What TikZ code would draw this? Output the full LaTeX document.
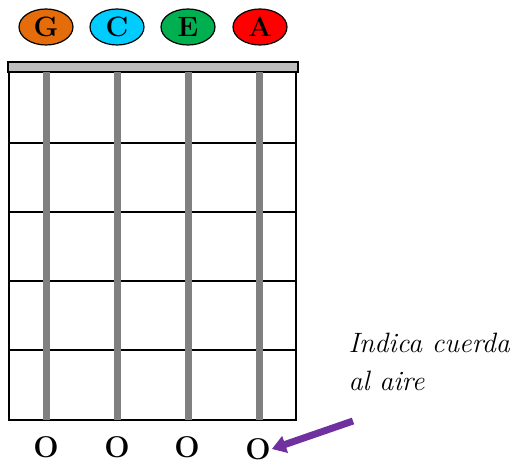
\documentclass[tikz,border=0pt]{standalone}
\usepackage{fontspec}
\usepackage{tikz}
\usetikzlibrary{shapes.geometric, arrows.meta}
\definecolor{cuerdaG}{HTML}{E46C0A}
\definecolor{cuerdaC}{HTML}{00CCFF}
\definecolor{cuerdaE}{HTML}{00B050}
\definecolor{cuerdaA}{HTML}{FF0000}
\definecolor{morado}{HTML}{7030A0}
\tikzset{
  nota/.style={ellipse, draw=black, line width=1.2pt, minimum width=54pt, minimum height=36pt, inner sep=0pt, font=\fontsize{28}{30}\selectfont\bfseries},
  abierta/.style={font=\fontsize{30}{32}\selectfont\bfseries, inner sep=1pt},
  cuerda/.style={line width=7pt, color=black!50}
}

\begin{document}
\begin{tikzpicture}[x=1pt, y=-1pt]
    \useasboundingbox (0,0) rectangle (519,465);
    % cejilla y diapason
    \draw[line width=1.5pt, fill=black!25] (8,62) rectangle (298,72);
    \draw[line width=1.5pt] (9,72) rectangle (296,420);
    \foreach \y in {143,212,281,350}
        \draw[line width=1.5pt] (9,\y) -- (296,\y);
    \foreach \x in {46,117,188,259}
        \draw[cuerda] (\x,72) -- (\x,420);
    % notas
    \node[nota, fill=cuerdaG] (notaG) at (46,27) {G};
    \node[nota, fill=cuerdaC] (notaC) at (117,27) {C};
    \node[nota, fill=cuerdaE] (notaE) at (188,27) {E};
    \node[nota, fill=cuerdaA] (notaA) at (260,27) {A};
    % cuerdas al aire
    \node[abierta] (aireG) at (46,447) {O};
    \node[abierta] (aireC) at (117,447) {O};
    \node[abierta] (aireE) at (187,447) {O};
    \node[abierta] (aireA) at (258,449) {O};
    \node[anchor=base west, font=\fontsize{28}{30}\selectfont\itshape] (linea1) at (345,352) {Indica cuerda};
    \node[anchor=base west, font=\fontsize{28}{30}\selectfont\itshape] (linea2) at (345,390) {al aire};
    \coordinate (inicio) at (353,421);
    \draw[morado, line width=7pt, -{Triangle[length=14pt, width=17pt]}] (inicio) -- (aireA.east);
\end{tikzpicture}
\end{document}
